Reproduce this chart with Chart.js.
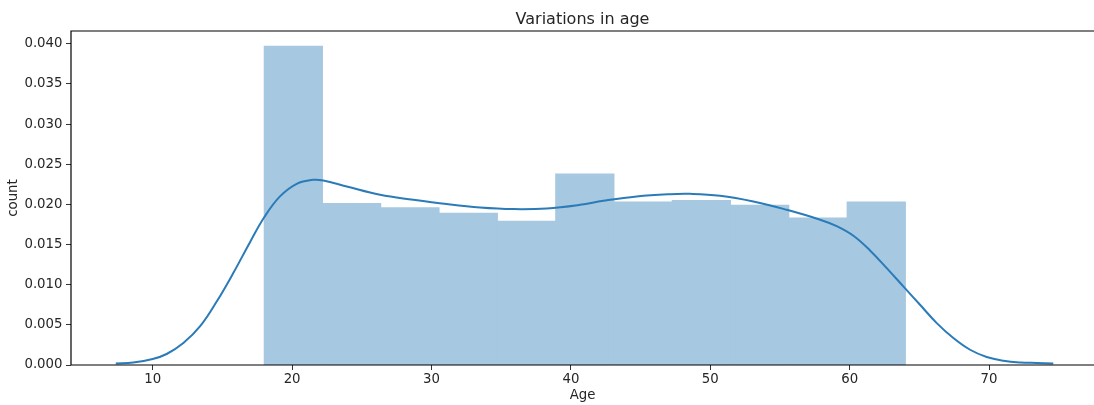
<!DOCTYPE html>
<html><head><meta charset="utf-8">
<script src="https://cdn.jsdelivr.net/npm/chart.js@4/dist/chart.umd.min.js"></script>
<style>html,body{margin:0;padding:0;background:#fff;overflow:hidden}canvas{display:block}</style>
</head><body>
<canvas id="c" width="1094" height="405"></canvas>
<script>
const titleText = 'Variations in age';
const xLabel = 'Age';
const yLabel = 'count';
const binEdges = [18, 22.18, 26.36, 30.55, 34.73, 38.91, 43.09, 47.27, 51.45, 55.64, 59.82, 64];
const binDensity = [0.0397, 0.0201, 0.0196, 0.0189, 0.0179, 0.0238, 0.0203, 0.0205, 0.0199, 0.0183, 0.0203];
const kdeAge = [7.35, 8.6, 10, 11.0, 12.2, 13.39, 14.59, 15.78, 16.98, 18.0, 19.13, 20.33, 21.52, 22.24, 23.92, 26.31, 28.70, 31.09, 33.48, 35.87, 38.27, 40.66, 42.33, 44.72, 47.11, 48.55, 50.70, 53.09, 55.49, 57.88, 59.07, 60.27, 61.46, 62.66, 63.85, 65.05, 66.25, 67.44, 68.64, 69.83, 71.03, 72.23, 73.42, 74.61];
const kdeDensity = [0.0002, 0.00032, 0.00075, 0.00137, 0.00274, 0.0048, 0.0079, 0.01145, 0.0153, 0.0184, 0.0210, 0.02257, 0.02307, 0.02298, 0.02223, 0.0212, 0.02058, 0.02004, 0.01962, 0.01942, 0.0195, 0.01995, 0.02045, 0.0210, 0.02128, 0.02132, 0.02108, 0.02037, 0.01933, 0.0181, 0.0173, 0.0161, 0.01427, 0.01207, 0.00979, 0.0075, 0.00522, 0.00336, 0.0019, 0.001, 0.00054, 0.00032, 0.00025, 0.0002];
const xTicks = [10, 20, 30, 40, 50, 60, 70];
const yTicks = [0, 0.005, 0.010, 0.015, 0.020, 0.025, 0.030, 0.035, 0.040];

const FONT = '"DejaVu Sans", sans-serif';
const TXT = '#262626';

const framePlugin = {
  id: 'frame',
  afterDatasetsDraw(chart) {
    const {ctx, chartArea: a} = chart;
    ctx.save();
    ctx.strokeStyle = '#000';
    ctx.lineWidth = 1.2;
    ctx.beginPath();
    ctx.moveTo(a.left, a.bottom); ctx.lineTo(a.left, a.top); ctx.lineTo(a.right + 2, a.top);
    ctx.moveTo(a.left, a.bottom); ctx.lineTo(a.right + 2, a.bottom);
    ctx.stroke();
    ctx.restore();
  },
  afterDraw(chart) {
    const {ctx, chartArea: a} = chart;
    ctx.save();
    ctx.font = '16px ' + FONT;
    ctx.fillStyle = TXT;
    ctx.textAlign = 'center';
    ctx.textBaseline = 'alphabetic';
    ctx.fillText(titleText, (a.left + a.right) / 2, 24.3);
    ctx.restore();
  }
};

new Chart(document.getElementById('c'), {
  type: 'bar',
  data: {
    datasets: [
      {
        type: 'line',
        data: kdeAge.map((x, i) => ({x, y: kdeDensity[i]})),
        borderColor: '#2a7bb8',
        borderWidth: 2,
        pointRadius: 0,
        fill: false,
        tension: 0.4,
        order: 1
      },
      {
        type: 'bar',
        data: binDensity.map((y, i) => ({x: (binEdges[i] + binEdges[i + 1]) / 2, y})),
        backgroundColor: 'rgb(166,200,224)',
        borderWidth: 0,
        inflateAmount: 0.5,
        barPercentage: 1,
        categoryPercentage: 1,
        order: 2
      }
    ]
  },
  options: {
    responsive: false,
    animation: false,
    devicePixelRatio: 1,
    layout: {padding: {top: 31, left: 0, right: 0, bottom: 0}},
    plugins: {legend: {display: false}, tooltip: {enabled: false}, title: {display: false}},
    scales: {
      x: {
        type: 'linear',
        offset: false,
        min: 4.138,
        max: 77.53,
        afterBuildTicks: s => { s.ticks = xTicks.map(v => ({value: v})); },
        afterFit: s => { s.height = 40; },
        ticks: {font: {family: FONT, size: 13.3}, color: TXT, padding: 2, maxRotation: 0, autoSkip: false},
        grid: {display: true, offset: false, drawOnChartArea: false, drawTicks: true, tickLength: 5, color: '#333', lineWidth: 1},
        border: {display: false},
        title: {display: true, text: xLabel, font: {family: FONT, size: 13.3}, color: TXT, padding: {top: 0, bottom: 1}}
      },
      y: {
        min: 0,
        max: 0.0416,
        afterBuildTicks: s => { s.ticks = yTicks.map(v => ({value: v})); },
        afterFit: s => { s.width = 71; },
        ticks: {font: {family: FONT, size: 13.3}, color: TXT, padding: 3.5, callback: v => v.toFixed(3)},
        grid: {display: true, offset: false, drawOnChartArea: false, drawTicks: true, tickLength: 5, color: '#333', lineWidth: 1},
        border: {display: false},
        title: {display: true, text: yLabel, font: {family: FONT, size: 13.3}, color: TXT, padding: {top: 5.4, bottom: 0}}
      }
    }
  },
  plugins: [framePlugin]
});
</script>
</body></html>
